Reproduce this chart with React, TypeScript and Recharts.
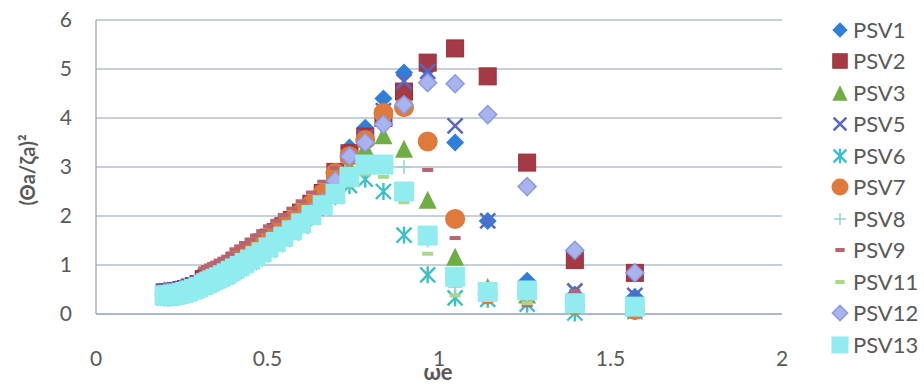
import React from 'react';
import { ScatterChart, Scatter, XAxis, YAxis, CartesianGrid, Legend } from 'recharts';

// encounter frequencies (rad/s) shared by every vessel
const OMEGA = [
  0.200, 0.209, 0.217, 0.224, 0.233, 0.242, 0.251, 0.262, 0.273, 0.286,
  0.299, 0.314, 0.322, 0.331, 0.340, 0.349, 0.359, 0.370, 0.381, 0.393,
  0.405, 0.419, 0.433, 0.449, 0.465, 0.483, 0.503, 0.524, 0.546, 0.571,
  0.598, 0.628, 0.661, 0.698, 0.739, 0.785, 0.838, 0.898, 0.967, 1.047,
  1.142, 1.257, 1.396, 1.571,
];

const PSV1 = [
  0.48, 0.48, 0.48, 0.49, 0.50, 0.51, 0.53, 0.55, 0.58, 0.61,
  0.65, 0.70, 0.73, 0.76, 0.79, 0.82, 0.85, 0.89, 0.93, 0.98,
  1.03, 1.08, 1.14, 1.21, 1.28, 1.36, 1.46, 1.57, 1.68, 1.81,
  1.95, 2.12, 2.32, 2.85, 3.40, 3.80, 4.40, 4.93, 5.00, 3.50,
  1.90, 0.68, 0.40, 0.35,
];
const PSV2 = [
  0.44, 0.44, 0.44, 0.45, 0.46, 0.47, 0.49, 0.51, 0.54, 0.57,
  0.61, 0.71, 0.74, 0.77, 0.80, 0.83, 0.87, 0.91, 0.95, 1.00,
  1.09, 1.15, 1.22, 1.29, 1.37, 1.46, 1.56, 1.67, 1.79, 1.92,
  2.07, 2.25, 2.47, 2.90, 3.28, 3.62, 4.00, 4.54, 5.13, 5.42,
  4.85, 3.09, 1.10, 0.84,
];
const PSV3 = [
  0.42, 0.42, 0.42, 0.43, 0.44, 0.45, 0.47, 0.49, 0.52, 0.55,
  0.59, 0.64, 0.67, 0.70, 0.73, 0.76, 0.79, 0.83, 0.87, 0.92,
  0.97, 1.02, 1.08, 1.15, 1.22, 1.30, 1.40, 1.51, 1.62, 1.75,
  1.89, 2.06, 2.26, 2.60, 3.00, 3.40, 3.65, 3.37, 2.33, 1.17,
  0.55, 0.40, 0.25, 0.15,
];
const PSV5 = [
  0.46, 0.46, 0.46, 0.47, 0.48, 0.49, 0.51, 0.53, 0.56, 0.59,
  0.63, 0.68, 0.71, 0.74, 0.77, 0.80, 0.83, 0.87, 0.91, 0.96,
  1.01, 1.06, 1.12, 1.19, 1.26, 1.34, 1.44, 1.55, 1.66, 1.79,
  1.93, 2.10, 2.30, 2.75, 3.20, 3.60, 4.15, 4.75, 4.95, 3.84,
  1.90, 0.55, 0.47, 0.38,
];
const PSV6 = [
  0.33, 0.33, 0.33, 0.34, 0.35, 0.36, 0.38, 0.40, 0.43, 0.46,
  0.50, 0.55, 0.58, 0.61, 0.64, 0.67, 0.70, 0.74, 0.78, 0.83,
  0.88, 0.93, 0.99, 1.06, 1.13, 1.21, 1.31, 1.42, 1.53, 1.66,
  1.80, 1.97, 2.17, 2.40, 2.62, 2.75, 2.50, 1.61, 0.80, 0.33,
  0.30, 0.20, 0.02, 0.05,
];
const PSV7 = [
  0.39, 0.39, 0.39, 0.40, 0.41, 0.42, 0.44, 0.46, 0.49, 0.52,
  0.56, 0.68, 0.71, 0.74, 0.77, 0.80, 0.84, 0.88, 0.92, 0.97,
  1.08, 1.14, 1.21, 1.28, 1.36, 1.45, 1.55, 1.66, 1.78, 1.91,
  2.06, 2.24, 2.46, 2.88, 3.22, 3.55, 4.10, 4.22, 3.52, 1.94,
  0.40, 0.42, 0.18, 0.08,
];
const PSV8 = [
  0.38, 0.38, 0.38, 0.39, 0.40, 0.41, 0.43, 0.45, 0.48, 0.51,
  0.55, 0.60, 0.63, 0.66, 0.69, 0.72, 0.75, 0.79, 0.83, 0.88,
  0.93, 0.98, 1.04, 1.11, 1.18, 1.26, 1.36, 1.47, 1.58, 1.71,
  1.85, 2.02, 2.22, 2.45, 2.75, 3.00, 3.05, 3.00, 1.50, 0.55,
  0.45, 0.40, 0.20, 0.10,
];
const PSV9 = [
  0.36, 0.36, 0.36, 0.37, 0.38, 0.39, 0.41, 0.43, 0.46, 0.49,
  0.53, 0.93, 0.96, 0.99, 1.02, 1.05, 1.09, 1.13, 1.17, 1.22,
  1.32, 1.38, 1.45, 1.52, 1.60, 1.69, 1.79, 1.90, 2.02, 2.15,
  2.30, 2.48, 2.70, 2.98, 3.20, 3.55, 3.95, 4.30, 2.94, 1.55,
  0.45, 0.18, 0.47, 0.00,
];
const PSV11 = [
  0.28, 0.28, 0.28, 0.29, 0.30, 0.31, 0.33, 0.35, 0.38, 0.41,
  0.45, 0.50, 0.53, 0.56, 0.59, 0.62, 0.65, 0.69, 0.73, 0.78,
  0.83, 0.88, 0.94, 1.01, 1.08, 1.16, 1.26, 1.37, 1.48, 1.61,
  1.75, 1.92, 2.12, 2.35, 2.62, 2.85, 2.80, 2.28, 1.23, 0.38,
  0.40, 0.22, 0.25, 0.10,
];
const PSV12 = [
  0.44, 0.44, 0.44, 0.45, 0.46, 0.47, 0.49, 0.51, 0.54, 0.57,
  0.61, 0.66, 0.69, 0.72, 0.75, 0.78, 0.81, 0.85, 0.89, 0.94,
  0.99, 1.04, 1.10, 1.17, 1.24, 1.32, 1.42, 1.53, 1.64, 1.77,
  1.91, 2.08, 2.28, 2.72, 3.22, 3.50, 3.87, 4.27, 4.72, 4.70,
  4.07, 2.60, 1.30, 0.84,
];
const PSV13 = [
  0.38, 0.38, 0.38, 0.39, 0.40, 0.41, 0.43, 0.45, 0.48, 0.51,
  0.55, 0.60, 0.63, 0.66, 0.69, 0.72, 0.75, 0.79, 0.83, 0.88,
  0.93, 0.98, 1.04, 1.11, 1.18, 1.26, 1.36, 1.47, 1.58, 1.71,
  1.85, 2.02, 2.22, 2.45, 2.80, 3.05, 3.05, 2.50, 1.60, 0.76,
  0.45, 0.48, 0.22, 0.15,
];

const X_TICKS = [0, 0.5, 1, 1.5, 2];
const Y_TICKS = [0, 1, 2, 3, 4, 5, 6];

type Kind = 'diamond' | 'square' | 'triangle' | 'x' | 'asterisk' | 'circle' | 'plus' | 'dash' | 'bigsquare';

interface SeriesDef {
  name: string;
  values: number[];
  kind: Kind;
  fill: string;
  stroke?: string;
}

const SERIES: SeriesDef[] = [
  { name: 'PSV1', values: PSV1, kind: 'diamond', fill: '#2f7ed8' },
  { name: 'PSV2', values: PSV2, kind: 'square', fill: '#a53a44', stroke: '#96313b' },
  { name: 'PSV3', values: PSV3, kind: 'triangle', fill: '#6fae45' },
  { name: 'PSV5', values: PSV5, kind: 'x', fill: '#5a67c4' },
  { name: 'PSV6', values: PSV6, kind: 'asterisk', fill: '#3cc0c8' },
  { name: 'PSV7', values: PSV7, kind: 'circle', fill: '#e07a3c' },
  { name: 'PSV8', values: PSV8, kind: 'plus', fill: '#9ad4d4' },
  { name: 'PSV9', values: PSV9, kind: 'dash', fill: '#b8656f' },
  { name: 'PSV11', values: PSV11, kind: 'dash', fill: '#a9d88b' },
  { name: 'PSV12', values: PSV12, kind: 'diamond', fill: '#a9b4ee', stroke: '#8a9be0' },
  { name: 'PSV13', values: PSV13, kind: 'bigsquare', fill: '#90ecef' },
];

const FONT = 'Lato, "Open Sans", sans-serif';
const TEXT = '#595959';
const GRID = '#8da2b5';

interface MarkerProps {
  kind: Kind;
  cx: number;
  cy: number;
  fill: string;
  stroke?: string;
  k?: number;
}

const Marker: React.FC<MarkerProps> = ({ kind, cx, cy, fill, stroke, k = 1 }) => {
  switch (kind) {
    case 'diamond': {
      const r = 9 * k;
      return (
        <polygon
          points={`${cx},${cy - r} ${cx + r},${cy} ${cx},${cy + r} ${cx - r},${cy}`}
          fill={fill}
          stroke={stroke || 'none'}
          strokeWidth={1.5}
        />
      );
    }
    case 'square':
    case 'bigsquare': {
      const s = (kind === 'bigsquare' ? 20 : 17) * k;
      return (
        <rect x={cx - s / 2} y={cy - s / 2} width={s} height={s} fill={fill} stroke={stroke || 'none'} strokeWidth={1} />
      );
    }
    case 'triangle': {
      const h = 9 * k;
      return <polygon points={`${cx},${cy - h} ${cx + h},${cy + h} ${cx - h},${cy + h}`} fill={fill} />;
    }
    case 'x': {
      const r = 7.5 * k;
      return (
        <g stroke={fill} strokeWidth={2.6}>
          <line x1={cx - r} y1={cy - r} x2={cx + r} y2={cy + r} />
          <line x1={cx - r} y1={cy + r} x2={cx + r} y2={cy - r} />
        </g>
      );
    }
    case 'asterisk': {
      const r = 7.5 * k;
      return (
        <g stroke={fill} strokeWidth={2.4}>
          <line x1={cx - r} y1={cy - r} x2={cx + r} y2={cy + r} />
          <line x1={cx - r} y1={cy + r} x2={cx + r} y2={cy - r} />
          <line x1={cx} y1={cy - r - 1} x2={cx} y2={cy + r + 1} />
        </g>
      );
    }
    case 'circle':
      return <circle cx={cx} cy={cy} r={10 * k} fill={fill} />;
    case 'plus': {
      const r = 7 * k;
      return (
        <g stroke={fill} strokeWidth={1.6}>
          <line x1={cx - r} y1={cy} x2={cx + r} y2={cy} />
          <line x1={cx} y1={cy - r} x2={cx} y2={cy + r} />
        </g>
      );
    }
    case 'dash':
      return <rect x={cx - 5.5 * k} y={cy - 2} width={11 * k} height={4} fill={fill} />;
    default:
      return null;
  }
};

const toPoints = (values: number[]) => OMEGA.map((x, i) => ({ x, y: values[i] }));

const XTitle = (props: any) => {
  const { x, y, width } = props.viewBox;
  return (
    <text x={x + width / 2 - 1} y={y + 66} textAnchor="middle" fill={TEXT} fontFamily={FONT} fontSize={22} fontWeight={700}>
      ωe
    </text>
  );
};

const YTitle = (props: any) => {
  const { x, y, height } = props.viewBox;
  const tx = x + 27;
  const ty = y + height / 2 + 3;
  return (
    <text
      x={tx}
      y={ty}
      transform={`rotate(-90 ${tx} ${ty})`}
      textAnchor="middle"
      dominantBaseline="central"
      fill={TEXT}
      fontFamily={FONT}
      fontSize={20}
      fontWeight={700}
    >
      (Θa/ζa)²
    </text>
  );
};

const SeriesLegend = () => (
  <div style={{ display: 'flex', flexDirection: 'column' }}>
    {SERIES.map((s) => (
      <div key={s.name} style={{ height: 31.5, display: 'flex', alignItems: 'center' }}>
        <svg width={22} height={22} style={{ flex: 'none' }}>
          <Marker kind={s.kind} cx={11} cy={11} fill={s.fill} stroke={s.stroke} k={0.85} />
        </svg>
        <span style={{ marginLeft: 2, fontFamily: FONT, fontSize: 22, color: TEXT, lineHeight: '22px' }}>{s.name}</span>
      </div>
    ))}
  </div>
);

export default function App() {
  return (
    <div style={{ position: 'absolute', left: 0, top: 0, width: 924, height: 385, background: '#fff' }}>
      <ScatterChart width={924} height={385} margin={{ top: 20, right: 142, bottom: 0, left: 0 }}>
        <CartesianGrid horizontal vertical={false} stroke={GRID} strokeWidth={1.2} />
        <XAxis
          type="number"
          dataKey="x"
          domain={[0, 2]}
          ticks={X_TICKS}
          height={71}
          axisLine={{ stroke: GRID, strokeWidth: 1.2 }}
          tickLine={false}
          tickSize={0}
          tickMargin={37}
          tick={{ fill: TEXT, fontSize: 21, fontFamily: FONT }}
          label={{ content: XTitle }}
        />
        <YAxis
          type="number"
          dataKey="y"
          domain={[0, 6]}
          ticks={Y_TICKS}
          width={96}
          axisLine={{ stroke: GRID, strokeWidth: 1.2 }}
          tickLine={false}
          tickSize={0}
          tickMargin={24}
          tick={{ fill: TEXT, fontSize: 21, fontFamily: FONT }}
          label={{ content: YTitle }}
        />
        <Legend
          layout="horizontal"
          align="center"
          verticalAlign="middle"
          wrapperStyle={{ left: 829, top: 14, width: 95, height: 350 }}
          content={SeriesLegend}
        />
        {SERIES.map((s) => (
          <Scatter
            key={s.name}
            name={s.name}
            data={toPoints(s.values)}
            isAnimationActive={false}
            shape={(p: any) => <Marker kind={s.kind} cx={p.cx} cy={p.cy} fill={s.fill} stroke={s.stroke} />}
          />
        ))}
      </ScatterChart>
    </div>
  );
}
